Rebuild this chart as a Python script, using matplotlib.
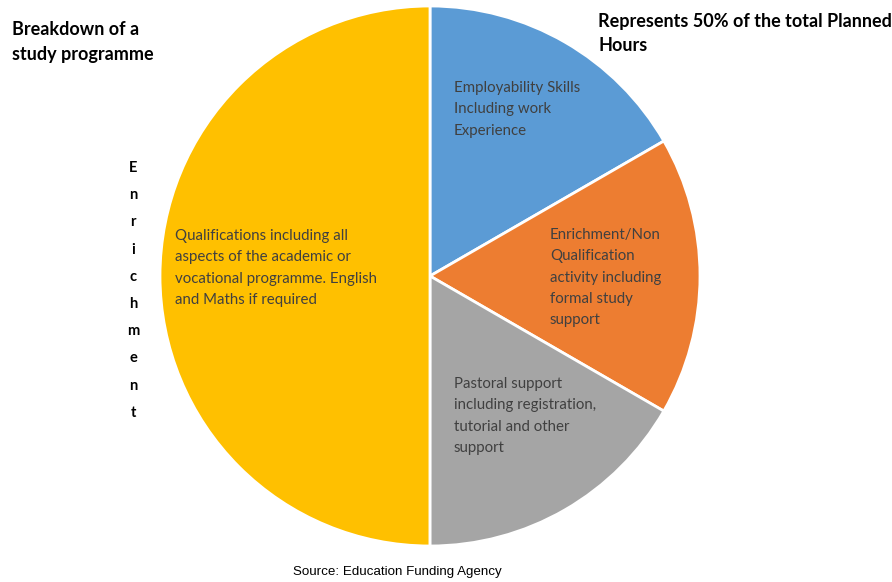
import matplotlib
matplotlib.use("Agg")
import matplotlib.pyplot as plt

W, H = 892, 582

# slice data (clockwise from 12 o'clock)
labels = [
    "Employability Skills\nIncluding work\nExperience",
    "Enrichment/Non\nQualification\nactivity including\nformal study\nsupport",
    "Pastoral support\nincluding registration,\ntutorial and other\nsupport",
    "Qualifications including all\naspects of the academic or\nvocational programme. English\nand Maths if required",
]
shares = [16.67, 16.67, 16.67, 50.0]
colors = ["#5b9bd5", "#ed7d31", "#a5a5a5", "#ffc000"]
# label anchor (left, top) in image pixels
label_pos = [(454, 81), (550, 228), (454, 377), (175, 229)]

title_left = "Breakdown of a\nstudy programme"
title_right = "Represents 50% of the total Planned\nHours"
side_word = "Enrichment"
source = "Source: Education Funding Agency"

fig = plt.figure(figsize=(W / 100, H / 100), dpi=100)
ax = fig.add_axes([0, 0, 1, 1])
ax.set_xlim(0, W); ax.set_ylim(0, H)
ax.set_aspect("equal"); ax.axis("off")

ax.pie(shares, colors=colors, center=(430, H - 276), radius=270,
       startangle=90, counterclock=False,
       wedgeprops=dict(edgecolor="white", linewidth=2))
ax.set_xlim(0, W); ax.set_ylim(0, H)

for txt, (x, y) in zip(labels, label_pos):
    ax.text(x, H - y, txt, ha="left", va="top", fontsize=10.8, family="Lato",
            color="#404040", linespacing=1.66)

ax.text(12, H - 21, title_left, ha="left", va="top", fontsize=13, family="Lato",
        weight="bold", color="black", linespacing=1.55)
ax.text(598, H - 13, title_right, ha="left", va="top", fontsize=13, family="Lato",
        weight="bold", color="black", linespacing=1.5)

for i, ch in enumerate(side_word):
    ax.text(133, H - (168 + i * 27.2), ch, ha="center", va="center", fontsize=10.5,
            family="Lato", weight="bold", color="black")

ax.text(397, H - 572, source, ha="center", va="center", fontsize=9.6,
        family="Liberation Sans", color="black")

fig.savefig("out.png", dpi=100)
